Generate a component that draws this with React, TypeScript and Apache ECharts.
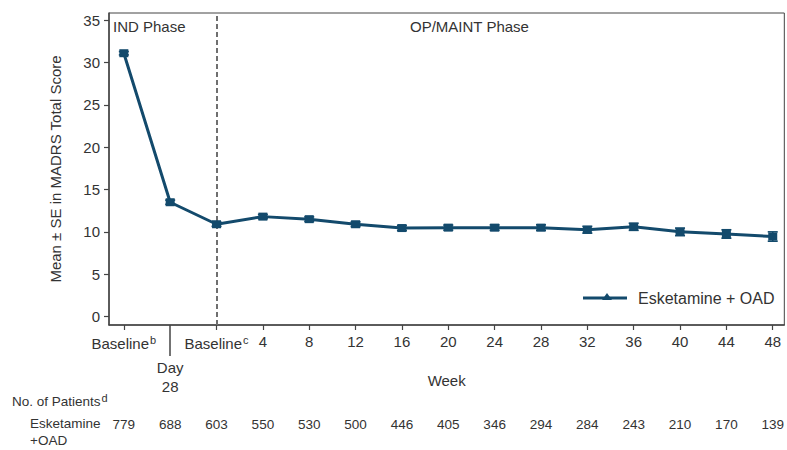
import React, { useEffect, useRef } from "react";
import * as echarts from "echarts";

// Visit labels along the time axis
const visitLabels = ["Baseline", "Day 28", "Baseline", "4", "8", "12", "16", "20", "24", "28", "32", "36", "40", "44", "48"];
const visitNotes = ["b", "", "c", "", "", "", "", "", "", "", "", "", "", "", ""];
// Mean MADRS total score at each visit
const meanScore = [31.1, 13.5, 10.9, 11.8, 11.5, 10.9, 10.45, 10.5, 10.5, 10.5, 10.25, 10.6, 10.0, 9.75, 9.45];
// Standard error at each visit
const seScore = [0.2, 0.25, 0.25, 0.25, 0.27, 0.28, 0.3, 0.3, 0.32, 0.33, 0.4, 0.42, 0.45, 0.5, 0.55];
// Number of patients at each visit
const patientCounts = [779, 688, 603, 550, 530, 500, 446, 405, 346, 294, 284, 243, 210, 170, 139];
const yTicks = [0, 5, 10, 15, 20, 25, 30, 35];

const NAVY = "#134a6c";
const TEXT = "#333333";
const FONT = "'Liberation Sans', Arial, sans-serif";

export default function App() {
  const ref = useRef<HTMLDivElement>(null);

  useEffect(() => {
    if (!ref.current) return;
    const chart = echarts.init(ref.current, undefined, { renderer: "svg" });
    const idx = visitLabels.map((_, i) => i);
    const xMin = -0.32;
    const xMax = 14.25;

    chart.setOption({
      animation: false,
      textStyle: { fontFamily: FONT, color: TEXT },
      grid: {
        left: 109,
        right: 1,
        top: 13,
        bottom: 125,
        show: true,
        borderColor: "#444",
        borderWidth: 1,
      },
      xAxis: [
        {
          type: "value",
          min: xMin,
          max: xMax,
          position: "bottom",
          name: "Week",
          nameLocation: "middle",
          nameGap: 48,
          nameTextStyle: { fontSize: 15, color: TEXT, fontFamily: FONT },
          axisLine: { show: true, onZero: false, lineStyle: { color: "#444", width: 1.5 } },
          axisTick: {
            show: true,
            length: 5,
            customValues: idx.filter((i) => i !== 1),
            lineStyle: { color: "#444", width: 1.2 },
          },
          splitLine: { show: false },
          axisLabel: {
            customValues: idx.filter((i) => i !== 1),
            margin: 9,
            fontSize: 15,
            color: TEXT,
            fontFamily: FONT,
            formatter: (v: number) => {
              const i = Math.round(v);
              const note = visitNotes[i];
              return note ? `{t|${visitLabels[i]}}{s|${note}}` : `{t|${visitLabels[i]}}`;
            },
            rich: {
              t: { fontSize: 15, color: TEXT, fontFamily: FONT },
              s: { fontSize: 11, color: TEXT, fontFamily: FONT, verticalAlign: "top", padding: [0, 0, 8, 1] },
            },
          },
        },
        {
          type: "value",
          min: xMin,
          max: xMax,
          position: "bottom",
          axisLine: { show: false, onZero: false },
          splitLine: { show: false },
          axisTick: {
            show: true,
            length: 31,
            customValues: [1],
            lineStyle: { color: "#444", width: 1.5 },
          },
          axisLabel: {
            customValues: [1],
            margin: 33,
            fontSize: 15,
            lineHeight: 19,
            color: TEXT,
            fontFamily: FONT,
            formatter: () => visitLabels[1].replace(" ", "\n"),
          },
        },
        {
          type: "value",
          min: xMin,
          max: xMax,
          position: "bottom",
          offset: 90,
          axisLine: { show: false, onZero: false },
          axisTick: { show: false },
          splitLine: { show: false },
          axisLabel: {
            customValues: idx,
            margin: 2,
            fontSize: 13.5,
            color: TEXT,
            fontFamily: FONT,
            formatter: (v: number) => String(patientCounts[Math.round(v)]),
          },
        },
      ],
      yAxis: {
        type: "value",
        min: -1,
        max: 35.85,
        name: "Mean ± SE in MADRS Total Score",
        nameLocation: "middle",
        nameGap: 46,
        nameTextStyle: { fontSize: 15, color: TEXT, fontFamily: FONT },
        axisLine: { show: true, onZero: false, lineStyle: { color: "#444", width: 1.5 } },
        axisTick: { show: true, length: 5, customValues: yTicks, lineStyle: { color: "#444", width: 1.2 } },
        axisLabel: { customValues: yTicks, margin: 9, fontSize: 15, color: TEXT, fontFamily: FONT },
        splitLine: { show: false },
      },
      graphic: [
        { type: "text", left: 113, top: 19, style: { text: "IND Phase", fontSize: 15, fill: TEXT, fontFamily: FONT } },
        { type: "text", left: 410, top: 19, style: { text: "OP/MAINT Phase", fontSize: 15, fill: TEXT, fontFamily: FONT } },
        { type: "line", shape: { x1: 583, y1: 298, x2: 627, y2: 298 }, style: { stroke: NAVY, lineWidth: 3 } },
        { type: "polygon", shape: { points: [[602, 300], [612, 300], [607, 293]] }, style: { fill: NAVY } },
        { type: "text", left: 638, top: 290, style: { text: "Esketamine + OAD", fontSize: 16, fill: TEXT, fontFamily: FONT } },
        {
          type: "text",
          left: 12,
          top: 392,
          style: {
            text: "{a|No. of Patients}{d|d}",
            fontFamily: FONT,
            rich: {
              a: { fontSize: 13.5, fill: TEXT, fontFamily: FONT },
              d: { fontSize: 11, fill: TEXT, fontFamily: FONT, verticalAlign: "top", padding: [0, 0, 8, 1] },
            },
          },
        },
        { type: "text", left: 30, top: 416, style: { text: "Esketamine", fontSize: 13.5, fill: TEXT, fontFamily: FONT } },
        { type: "text", left: 30, top: 433, style: { text: "+OAD", fontSize: 13.5, fill: TEXT, fontFamily: FONT } },
      ],
      series: [
        {
          type: "custom",
          xAxisIndex: 0,
          z: 3,
          data: idx.map((i) => [i, meanScore[i] - seScore[i], meanScore[i] + seScore[i]]),
          renderItem: (params: any, api: any) => {
            const x = api.value(0);
            const lo = api.coord([x, api.value(1)]);
            const hi = api.coord([x, api.value(2)]);
            const w = 5;
            const style = { stroke: NAVY, lineWidth: 1.6 };
            return {
              type: "group",
              children: [
                { type: "line", shape: { x1: lo[0], y1: lo[1], x2: hi[0], y2: hi[1] }, style },
                { type: "line", shape: { x1: lo[0] - w, y1: lo[1], x2: lo[0] + w, y2: lo[1] }, style },
                { type: "line", shape: { x1: hi[0] - w, y1: hi[1], x2: hi[0] + w, y2: hi[1] }, style },
              ],
            };
          },
        },
        {
          type: "line",
          name: "Esketamine + OAD",
          xAxisIndex: 0,
          z: 4,
          data: idx.map((i) => [i, meanScore[i]]),
          symbol: "rect",
          symbolSize: [9, 8],
          lineStyle: { color: NAVY, width: 3 },
          itemStyle: { color: NAVY },
          markLine: {
            silent: true,
            symbol: "none",
            label: { show: false },
            lineStyle: { color: "#6f6f6f", width: 2, type: [5, 3] },
            data: [{ xAxis: 2 }],
            z: 2,
          },
        },
      ],
    });

    return () => chart.dispose();
  }, []);

  return <div ref={ref} style={{ width: 787, height: 450, position: "absolute", left: 0, top: 0 }} />;
}
